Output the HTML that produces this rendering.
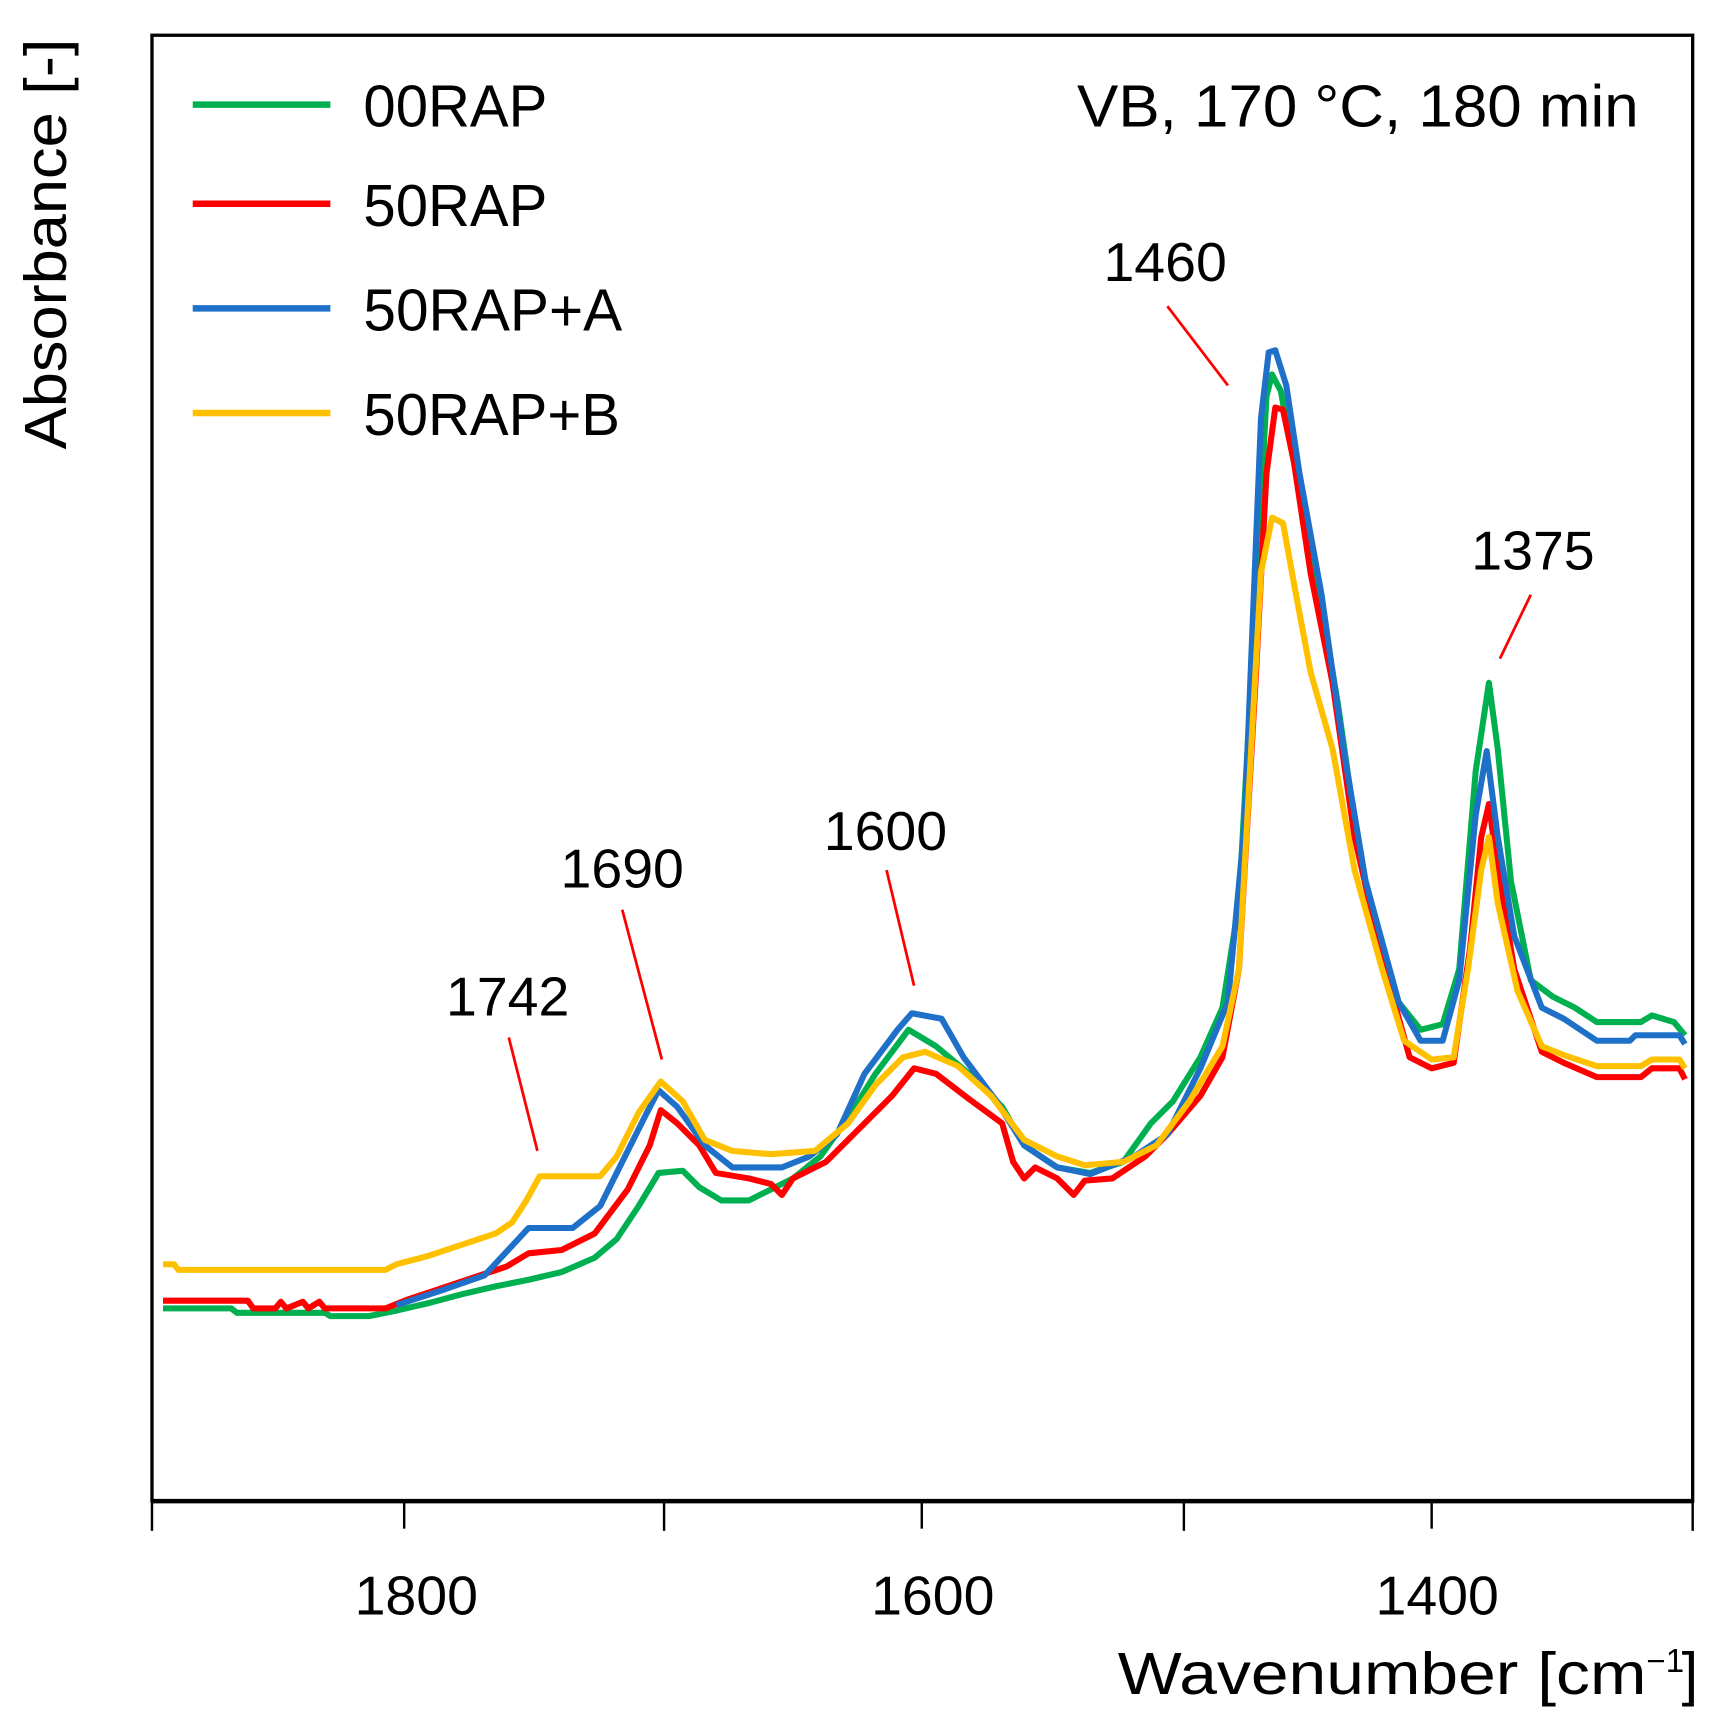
<!DOCTYPE html>
<html><head><meta charset="utf-8"><style>html,body{margin:0;padding:0;background:#fff}svg{display:block}</style></head>
<body>
<svg width="1718" height="1728" viewBox="0 0 1560 1569" preserveAspectRatio="none" xmlns="http://www.w3.org/2000/svg" font-family="Liberation Sans, sans-serif">
<rect x="0" y="0" width="1560" height="1569" fill="#fff"/>
<rect x="138" y="32" width="1399" height="1331" fill="none" stroke="#000" stroke-width="3"/>
<line x1="138" y1="1363" x2="1537" y2="1363" stroke="#000" stroke-width="4"/>
<g stroke="#000" stroke-width="2.2">
<line x1="138" y1="1363" x2="138" y2="1390"/><line x1="367" y1="1363" x2="367" y2="1388"/>
<line x1="603" y1="1363" x2="603" y2="1390"/><line x1="837" y1="1363" x2="837" y2="1388"/>
<line x1="1075" y1="1363" x2="1075" y2="1390"/><line x1="1300" y1="1363" x2="1300" y2="1388"/>
<line x1="1537" y1="1363" x2="1537" y2="1390"/>
</g>
<g font-size="50" fill="#000">
<text x="322" y="1466" textLength="112" lengthAdjust="spacingAndGlyphs">1800</text>
<text x="791" y="1466" textLength="112" lengthAdjust="spacingAndGlyphs">1600</text>
<text x="1249" y="1466" textLength="112" lengthAdjust="spacingAndGlyphs">1400</text>
</g>
<text x="1015" y="1538" font-size="54" textLength="480" lengthAdjust="spacingAndGlyphs">Wavenumber [cm</text>
<text x="1495" y="1518" font-size="30">−1</text>
<text x="1527" y="1538" font-size="54">]</text>
<text transform="translate(60,408) rotate(-90)" font-size="54" textLength="373" lengthAdjust="spacingAndGlyphs">Absorbance [-]</text>
<g fill="none" stroke-width="5.5" stroke-linejoin="round">
<polyline stroke="#00b050" points="148,1188 210,1188 215,1192 295,1192 300,1195 335,1195 360,1190 390,1183 420,1175 450,1168 480,1162 510,1155 540,1142 560,1125 580,1095 598,1065 620,1063 635,1078 655,1090 680,1090 700,1080 720,1070 745,1050 770,1015 795,975 825,935 850,950 880,975 910,1005 930,1040 960,1060 990,1065 1020,1055 1045,1020 1065,1000 1090,960 1110,915 1125,820 1140,550 1150,360 1155,340 1163,355 1175,420 1190,500 1200,550 1215,640 1235,780 1255,860 1270,910 1290,935 1310,930 1325,880 1340,700 1352,620 1360,680 1372,800 1390,890 1410,905 1430,915 1450,928 1490,928 1500,922 1520,928 1530,940"/>
<polyline stroke="#ff0000" points="148,1181 225,1181 230,1188 250,1188 255,1182 260,1188 275,1182 280,1188 290,1182 295,1188 350,1188 370,1180 400,1170 430,1160 460,1150 480,1138 510,1135 540,1120 570,1080 590,1040 600,1008 615,1020 635,1040 650,1065 680,1070 700,1075 710,1085 720,1070 750,1055 780,1025 810,995 830,970 850,975 880,998 910,1020 920,1055 930,1070 940,1060 960,1070 975,1085 985,1072 1010,1070 1040,1050 1060,1030 1090,995 1110,960 1125,880 1140,620 1150,430 1158,370 1165,372 1175,420 1190,520 1210,620 1230,760 1255,870 1280,960 1300,970 1320,965 1335,860 1345,760 1352,730 1360,790 1375,880 1400,955 1420,965 1450,978 1490,978 1500,970 1525,970 1530,980"/>
<polyline stroke="#1f70c8" points="360,1185 400,1172 440,1158 480,1115 520,1115 545,1095 565,1055 585,1015 598,990 615,1005 640,1040 665,1060 710,1060 735,1050 760,1030 785,975 815,935 828,920 855,925 875,960 905,1000 930,1040 960,1060 990,1066 1030,1050 1060,1030 1090,970 1115,910 1130,750 1145,380 1152,320 1158,318 1168,350 1180,430 1200,540 1220,680 1240,800 1270,910 1290,945 1310,945 1325,890 1340,740 1350,682 1360,760 1375,850 1400,915 1420,925 1450,945 1480,945 1485,940 1525,940 1530,948"/>
<polyline stroke="#ffc000" points="148,1148 158,1148 162,1153 350,1153 360,1148 390,1140 420,1130 450,1120 465,1110 478,1090 490,1068 520,1068 545,1068 560,1050 580,1010 600,982 620,1000 640,1035 665,1045 700,1048 740,1045 770,1020 795,985 820,960 840,955 870,968 900,995 930,1035 960,1050 985,1058 1020,1055 1050,1040 1080,1000 1110,950 1125,880 1135,700 1145,520 1155,470 1165,475 1175,530 1190,610 1210,680 1230,790 1255,880 1275,945 1300,962 1320,960 1333,880 1345,790 1352,760 1360,820 1378,900 1400,950 1420,958 1450,968 1490,968 1500,962 1525,962 1530,970"/>
</g>
<g stroke="#ff0000" stroke-width="2.5">
<line x1="462" y1="942" x2="488" y2="1045"/><line x1="565" y1="826" x2="601" y2="962"/>
<line x1="805" y1="790" x2="830" y2="895"/><line x1="1060" y1="278" x2="1115" y2="350"/>
<line x1="1390" y1="540" x2="1362" y2="598"/>
</g>
<g font-size="50" fill="#000">
<text x="405" y="922" textLength="112" lengthAdjust="spacingAndGlyphs">1742</text>
<text x="509" y="806" textLength="112" lengthAdjust="spacingAndGlyphs">1690</text>
<text x="748" y="772" textLength="112" lengthAdjust="spacingAndGlyphs">1600</text>
<text x="1002" y="255" textLength="112" lengthAdjust="spacingAndGlyphs">1460</text>
<text x="1336" y="517" textLength="112" lengthAdjust="spacingAndGlyphs">1375</text>
</g>
<g stroke-width="6">
<line x1="175" y1="95" x2="300" y2="95" stroke="#00b050"/>
<line x1="175" y1="185" x2="300" y2="185" stroke="#ff0000"/>
<line x1="175" y1="280" x2="300" y2="280" stroke="#1f70c8"/>
<line x1="175" y1="375" x2="300" y2="375" stroke="#ffc000"/>
</g>
<g font-size="54" fill="#000">
<text x="330" y="115" textLength="167" lengthAdjust="spacingAndGlyphs">00RAP</text>
<text x="330" y="205" textLength="167" lengthAdjust="spacingAndGlyphs">50RAP</text>
<text x="330" y="300" textLength="235" lengthAdjust="spacingAndGlyphs">50RAP+A</text>
<text x="330" y="395" textLength="233" lengthAdjust="spacingAndGlyphs">50RAP+B</text>
<text x="978" y="115" textLength="510" lengthAdjust="spacingAndGlyphs">VB, 170 °C, 180 min</text>
</g>
</svg>
</body></html>
